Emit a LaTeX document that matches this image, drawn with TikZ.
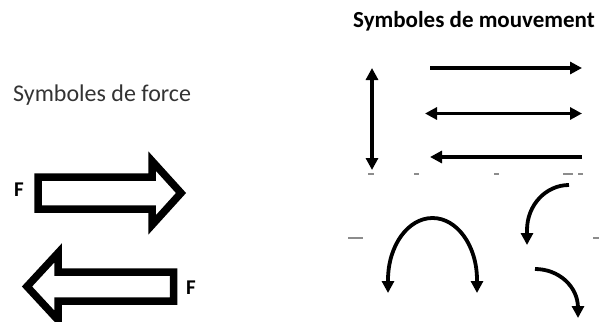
\documentclass[tikz,border=0pt]{standalone}
\usepackage{fontspec}
\setmainfont{Carlito}
\usetikzlibrary{arrows.meta}
\begin{document}
\begin{tikzpicture}[x=1pt,y=1pt,
  forcearrow/.style={line width=7.5pt, line join=miter, miter limit=10, draw=black, fill=white},
  movearrow/.style={line width=3.8pt, draw=black},
  tipstyle/.style={-{Triangle[length=12pt,width=12pt]}},
  bothtips/.style={{Triangle[length=12pt,width=12pt]}-{Triangle[length=12pt,width=12pt]}},
  scanmark/.style={line width=1.4pt, draw=black!45},
  heading/.style={inner sep=0pt, anchor=base west},
  forcelabel/.style={inner sep=0pt, font=\fontsize{21}{25}\selectfont\bfseries}
]
\path[use as bounding box, clip] (0,0) rectangle (599,-321);

% headings
\node[heading, font=\fontsize{24}{28}\selectfont, text=black!80] (forcetitle) at (13,-101) {Symboles de force};
\node[heading, font=\fontsize{23}{27}\selectfont\bfseries] (movetitle) at (353,-28) {Symboles de mouvement};

% hollow force arrows
\draw[forcearrow] (38,-177) -- (152,-177) -- (152,-161) -- (181,-193)
  -- (152,-225) -- (152,-209) -- (38,-209) -- cycle;
\node[forcelabel] (fright) at (19,-190) {F};

\draw[forcearrow] (173.5,-272) -- (58,-272) -- (58,-253) -- (27,-286.5)
  -- (58,-320) -- (58,-301) -- (173.5,-301) -- cycle;
\node[forcelabel] (fleft) at (191,-288) {F};

% straight movement arrows
\coordinate (vtop) at (372,-68);
\coordinate (vbot) at (372,-170);
\coordinate (h1a) at (430,-68);
\coordinate (h1b) at (582,-68);
\coordinate (h2a) at (425,-113.5);
\coordinate (h2b) at (582,-113.5);
\coordinate (h3a) at (582,-157);
\coordinate (h3b) at (430,-157);
\draw[movearrow, bothtips] (vtop) -- (vbot);
\draw[movearrow, tipstyle] (h1a) -- (h1b);
\draw[movearrow, bothtips] (h2a) -- (h2b);
\draw[movearrow, tipstyle] (h3a) -- (h3b);

% curved movement arrows
\coordinate (archL) at (388,-293);
\coordinate (archR) at (477,-293);
\draw[movearrow, bothtips] (archL) -- ++(0,13)
  arc[start angle=180, end angle=0, x radius=44.5, y radius=62] -- (archR);

\coordinate (turnA) at (569,-185);
\coordinate (turnB) at (527,-245);
\draw[movearrow, tipstyle] (turnA)
  arc[start angle=90, end angle=180, x radius=42, y radius=45] -- (turnB);

\coordinate (dropA) at (535,-269);
\coordinate (dropB) at (578,-318);
\draw[movearrow, tipstyle] (dropA)
  arc[start angle=90, end angle=0, x radius=43, y radius=39] -- (dropB);

% small grey marks
\draw[scanmark] (368,-174) -- (374,-174);
\draw[scanmark] (414,-174) -- (419,-174);
\draw[scanmark] (494,-174) -- (499,-174);
\draw[scanmark] (563,-174) -- (573,-174);
\draw[scanmark] (578,-174) -- (583,-174);
\draw[scanmark] (348,-238) -- (363,-238);
\draw[scanmark] (593,-238) -- (599,-238);
\end{tikzpicture}
\end{document}
